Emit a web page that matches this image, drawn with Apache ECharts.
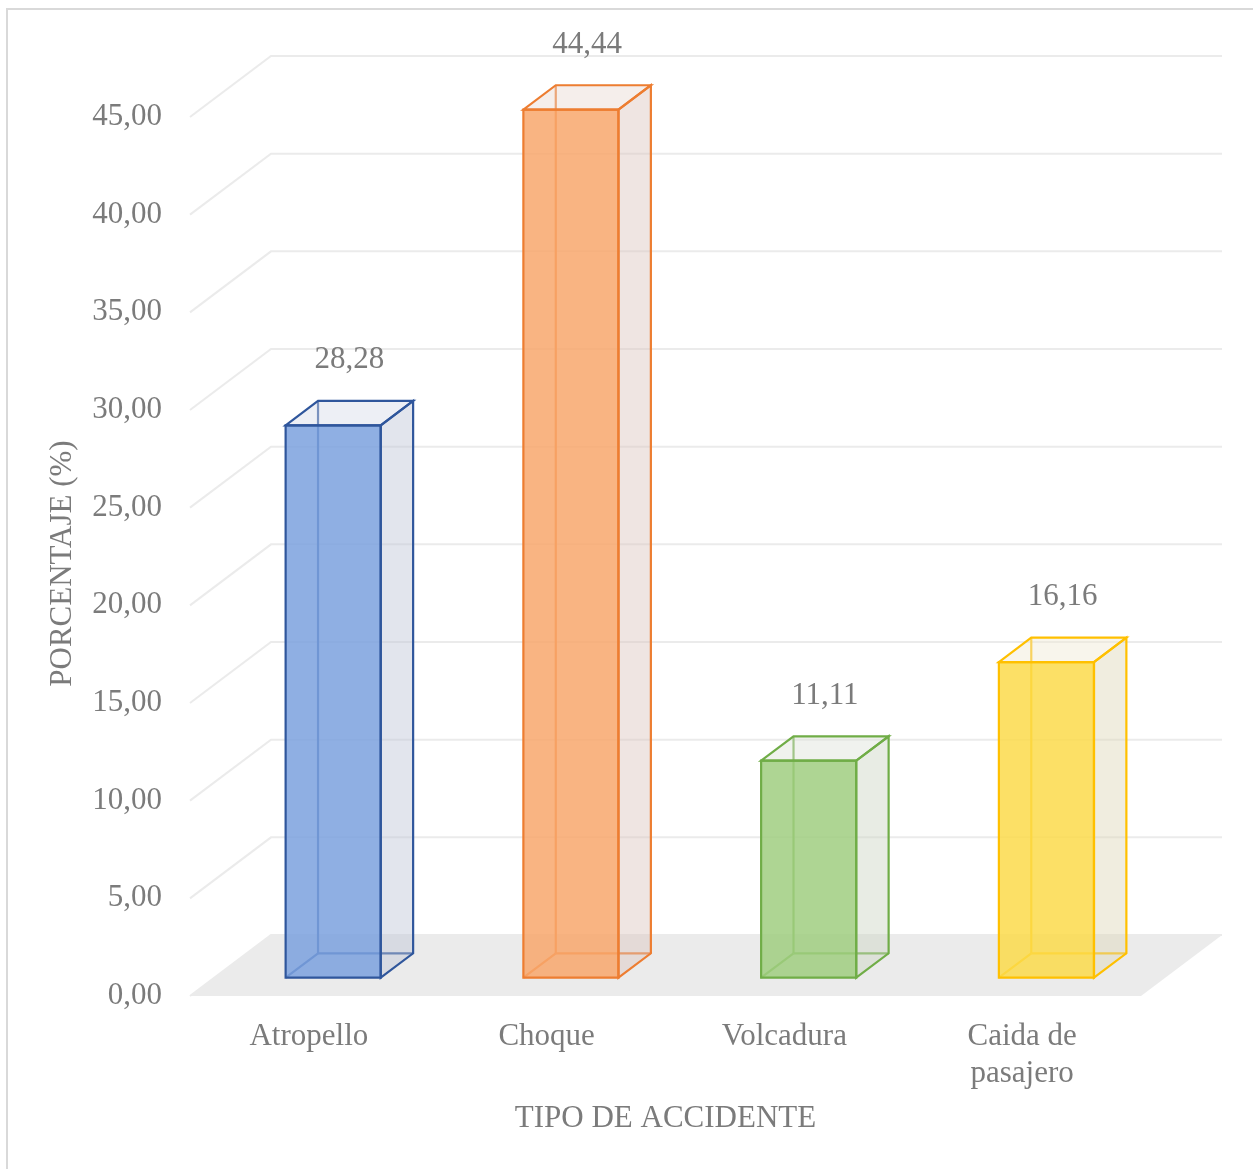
<!DOCTYPE html>
<html>
<head>
<meta charset="utf-8">
<title>Tipo de accidente</title>
<script src="https://cdn.jsdelivr.net/npm/echarts@6/dist/echarts.min.js"></script>
<style>
  html, body { margin: 0; padding: 0; background: #ffffff; }
  #chart { width: 1253px; height: 1169px; }
</style>
</head>
<body>
<div id="chart"></div>
<script>
// Categories and percentages
const categories = ['Atropello', 'Choque', 'Volcadura', 'Caida de\npasajero'];
const percentages = [28.28, 44.44, 11.11, 16.16];

// Value-axis ticks (also used for the gridlines on the back and side walls)
const yTicks = [0, 5, 10, 15, 20, 25, 30, 35, 40, 45];

// Bar colours: edge, front face, side face, top face
const edgeColors  = ['#2F569C', '#ED7D31', '#70AD47', '#FFC000'];
const frontColors = ['rgba(123,161,222,0.85)', 'rgba(248,167,108,0.85)', 'rgba(160,206,128,0.85)', 'rgba(251,219,75,0.85)'];
const sideColors  = ['rgba(190,198,215,0.45)', 'rgba(220,198,190,0.45)', 'rgba(205,212,195,0.45)', 'rgba(222,214,185,0.45)'];
const topColors   = ['rgba(215,220,232,0.45)', 'rgba(232,218,210,0.45)', 'rgba(222,226,218,0.45)', 'rgba(240,233,212,0.45)'];

// Oblique projection of the depth axis (pixels for full depth)
const DEPTH_DX = 81;
const DEPTH_DY = -61;
const BAR_FRONT = 0.3;
const BAR_BACK = 0.7;
const BAR_WIDTH_RATIO = 0.4;

const FONT = "'Liberation Serif', 'Times New Roman', serif";
const TEXT_COLOR = '#7b7b7b';
const FONT_SIZE = 31;

function fmt(v) {
  return Number(v).toFixed(2).replace('.', ',');
}

function proj(x, y, d) {
  return [x + DEPTH_DX * d, y + DEPTH_DY * d];
}

// Floor of the plot
function renderFloor(params, api) {
  const cs = params.coordSys;
  const y0 = api.coord([0, 0])[1];
  const x0 = cs.x, x1 = cs.x + cs.width;
  return {
    type: 'polygon',
    shape: { points: [[x0, y0], [x1, y0], proj(x1, y0, 1), proj(x0, y0, 1)] },
    style: { fill: '#EBEBEB' },
    silent: true
  };
}

// Gridline for one tick: diagonal on the side wall, horizontal on the back wall
function renderGrid(params, api) {
  const cs = params.coordSys;
  const y = api.coord([0, api.value(0)])[1];
  const x0 = cs.x, x1 = cs.x + cs.width;
  return {
    type: 'polyline',
    shape: { points: [[x0, y], proj(x0, y, 1), proj(x1, y, 1)] },
    style: { stroke: '#EBEBEB', lineWidth: 2, fill: null },
    silent: true
  };
}

// One 3D box per category
function renderBar(params, api) {
  const i = api.value(0);
  const v = api.value(1);
  const base = api.coord([i, 0]);
  const top = api.coord([i, v]);
  const band = api.size([1, 0])[0];
  const hw = band * BAR_WIDTH_RATIO / 2;
  const xl = base[0] - hw, xr = base[0] + hw;
  const yb = base[1], yt = top[1];
  const f = BAR_FRONT, b = BAR_BACK;

  const FLB = proj(xl, yb, f), FRB = proj(xr, yb, f), FLT = proj(xl, yt, f), FRT = proj(xr, yt, f);
  const BLB = proj(xl, yb, b), BRB = proj(xr, yb, b), BLT = proj(xl, yt, b), BRT = proj(xr, yt, b);

  const edge = edgeColors[i];
  const lw = 2.2;
  const line = (a, c) => ({
    type: 'line',
    shape: { x1: a[0], y1: a[1], x2: c[0], y2: c[1] },
    style: { stroke: edge, lineWidth: lw }
  });
  const labelPos = proj(base[0], yt, (f + b) / 2);

  return {
    type: 'group',
    children: [
      // hidden edges behind the front face
      line(BLB, BLT), line(BLB, BRB), line(FLB, BLB),
      // right side face
      { type: 'polygon', shape: { points: [FRB, BRB, BRT, FRT] }, style: { fill: sideColors[i] } },
      // top face
      { type: 'polygon', shape: { points: [FLT, FRT, BRT, BLT] }, style: { fill: topColors[i] } },
      // front face
      { type: 'polygon', shape: { points: [FLB, FRB, FRT, FLT] }, style: { fill: frontColors[i] } },
      // visible outline
      { type: 'polygon', shape: { points: [FLB, FRB, FRT, FLT] }, style: { fill: null, stroke: edge, lineWidth: lw } },
      { type: 'polygon', shape: { points: [FRB, BRB, BRT, FRT] }, style: { fill: null, stroke: edge, lineWidth: lw } },
      { type: 'polygon', shape: { points: [FLT, FRT, BRT, BLT] }, style: { fill: null, stroke: edge, lineWidth: lw } },
      // value label above the box
      {
        type: 'text',
        x: labelPos[0],
        y: labelPos[1] - 53,
        style: {
          text: fmt(v),
          fill: TEXT_COLOR,
          font: FONT_SIZE + 'px ' + FONT,
          align: 'center',
          verticalAlign: 'middle'
        }
      }
    ]
  };
}

const chart = echarts.init(document.getElementById('chart'), null, { renderer: 'canvas' });

chart.setOption({
  animation: false,
  backgroundColor: '#ffffff',
  graphic: [{
    type: 'rect',
    shape: { x: 7, y: 9, width: 1300, height: 1200 },
    style: { fill: null, stroke: '#D9D9D9', lineWidth: 2 },
    silent: true,
    z: -10
  }],
  grid: { left: 190, right: 112, top: 117, bottom: 173, containLabel: false },
  xAxis: {
    type: 'category',
    data: categories,
    axisLine: { show: false },
    axisTick: { show: false },
    axisLabel: {
      margin: 22,
      color: TEXT_COLOR,
      fontFamily: FONT,
      fontSize: FONT_SIZE,
      lineHeight: 37,
      interval: 0
    },
    name: 'TIPO DE ACCIDENTE',
    nameLocation: 'middle',
    nameGap: 107,
    nameTextStyle: { color: TEXT_COLOR, fontFamily: FONT, fontSize: FONT_SIZE, verticalAlign: 'top' }
  },
  yAxis: {
    type: 'value',
    min: 0,
    max: 45,
    interval: 5,
    axisLine: { show: false },
    axisTick: { show: false },
    splitLine: { show: false },
    axisLabel: {
      margin: 28,
      color: TEXT_COLOR,
      fontFamily: FONT,
      fontSize: FONT_SIZE,
      formatter: fmt
    },
    name: 'PORCENTAJE (%)',
    nameLocation: 'middle',
    nameRotate: 90,
    nameGap: 112,
    nameTextStyle: { color: TEXT_COLOR, fontFamily: FONT, fontSize: FONT_SIZE, padding: [0, 14, 0, 0] }
  },
  series: [
    {
      type: 'custom',
      renderItem: renderFloor,
      data: [[0, 0]],
      clip: false,
      z: 1,
      silent: true
    },
    {
      type: 'custom',
      renderItem: renderGrid,
      data: yTicks.map(t => [t]),
      encode: { y: 0 },
      clip: false,
      z: 2,
      silent: true
    },
    {
      type: 'custom',
      renderItem: renderBar,
      data: percentages.map((v, i) => [i, v]),
      encode: { x: 0, y: 1 },
      clip: false,
      z: 3
    }
  ]
});
</script>
</body>
</html>
